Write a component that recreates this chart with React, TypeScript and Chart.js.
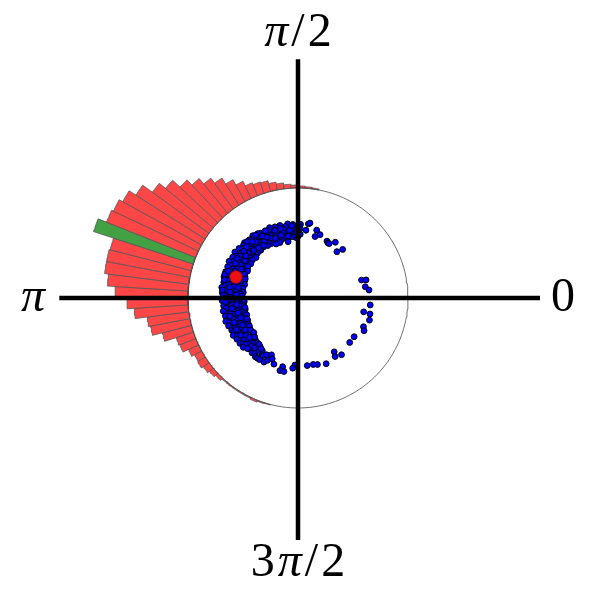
import React, { useEffect, useRef } from "react";
import { Chart, registerables } from "chart.js";

Chart.register(...registerables);

// ---------- data ----------
const binWidthDeg = 3.6;
const binCentersDeg = [
  81.0, 84.6, 88.2, 91.8, 95.4, 99.0, 102.6, 106.2, 109.8, 113.4, 117.0, 120.6,
  124.2, 127.8, 131.4, 135.0, 138.6, 142.2, 145.8, 149.4, 153.0, 156.6, 160.2,
  163.8, 167.4, 171.0, 174.6, 178.2, 181.8, 185.4, 189.0, 192.6, 196.2, 199.8,
  203.4, 207.0, 210.6, 214.2, 217.8, 221.4, 225.0, 228.6, 232.2, 235.8, 239.4,
  243.0, 246.6, 250.2, 253.8,
];
const binCounts = [
  1, 1.5, 2, 3, 4, 6, 8, 11, 12, 14, 19, 25,
  32, 38, 45, 52, 62, 70, 82, 90, 94, 96, 105,
  84, 85, 85, 81, 73, 61, 54, 42, 40, 30, 18,
  17, 11, 8, 9, 7, 5, 3, 1, 1, 1, 1,
  1, 2, 1, 0.5,
];

// samples on the unit circle plot: [direction in degrees, resultant length]
const denseSamples: [number, number][] = [
  [88,0.58],[88,0.63],[88,0.67],[90,0.56],[90,0.61],[90,0.66],[92,0.59],[92,0.64],[92,0.55],
  [94,0.57],[94,0.62],[94,0.67],[96,0.60],[96,0.65],[96,0.56],[98,0.58],[98,0.63],[98,0.68],
  [100,0.55],[100,0.61],[100,0.66],[102,0.59],[102,0.64],[102,0.57],[104,0.56],[104,0.62],[104,0.68],
  [106,0.60],[106,0.66],[106,0.55],[108,0.57],[108,0.63],[108,0.68],[110,0.55],[110,0.61],[110,0.66],
  [112,0.59],[112,0.64],[112,0.69],[114,0.56],[114,0.62],[114,0.67],[116,0.58],[116,0.65],[116,0.55],
  [118,0.61],[118,0.67],[118,0.57],[120,0.55],[120,0.62],[120,0.68],[122,0.58],[122,0.64],[122,0.69],
  [124,0.56],[124,0.61],[124,0.66],[126,0.59],[126,0.65],[126,0.70],[128,0.55],[128,0.62],[128,0.68],
  [130,0.57],[130,0.63],[130,0.69],[132,0.60],[132,0.66],[132,0.55],[134,0.56],[134,0.62],[134,0.70],
  [136,0.58],[136,0.64],[136,0.69],[138,0.55],[138,0.61],[138,0.67],[140,0.57],[140,0.63],[140,0.70],
  [142,0.54],[142,0.60],[142,0.66],[144,0.58],[144,0.65],[144,0.71],[146,0.55],[146,0.62],[146,0.68],
  [148,0.57],[148,0.64],[148,0.70],[150,0.53],[150,0.60],[150,0.67],[152,0.56],[152,0.63],[152,0.71],
  [154,0.54],[154,0.61],[154,0.68],[156,0.57],[156,0.65],[156,0.70],[158,0.52],[158,0.59],[158,0.66],
  [160,0.55],[160,0.62],[160,0.70],[162,0.51],[162,0.58],[162,0.67],[164,0.54],[164,0.64],[164,0.70],
  [166,0.50],[166,0.57],[166,0.66],[168,0.53],[168,0.61],[168,0.69],[170,0.51],[170,0.59],[170,0.67],
  [172,0.54],[172,0.63],[172,0.70],[174,0.50],[174,0.57],[174,0.66],[176,0.52],[176,0.60],[176,0.69],
  [178,0.55],[178,0.64],[178,0.68],[180,0.50],[180,0.58],[180,0.66],[182,0.53],[182,0.61],[182,0.69],
  [184,0.49],[184,0.56],[184,0.65],[186,0.52],[186,0.60],[186,0.68],[188,0.50],[188,0.58],[188,0.66],
  [190,0.53],[190,0.62],[190,0.69],[192,0.49],[192,0.56],[192,0.64],[194,0.52],[194,0.60],[194,0.68],
  [196,0.50],[196,0.57],[196,0.65],[198,0.53],[198,0.62],[198,0.69],[200,0.51],[200,0.58],[200,0.66],
  [202,0.54],[202,0.61],[202,0.68],[204,0.50],[204,0.57],[204,0.65],[206,0.53],[206,0.60],[206,0.67],
  [208,0.51],[208,0.58],[208,0.66],[210,0.54],[210,0.62],[210,0.68],[212,0.52],[212,0.59],[212,0.65],
  [214,0.55],[214,0.61],[214,0.67],[216,0.52],[216,0.58],[216,0.64],[218,0.54],[218,0.62],[218,0.67],
  [220,0.53],[220,0.59],[220,0.65],[222,0.56],[222,0.63],[222,0.67],[224,0.54],[224,0.60],
  [226,0.57],[226,0.64],[228,0.55],[228,0.62],[230,0.58],[230,0.65],[232,0.56],[232,0.63],
  [234,0.60],[234,0.66],[236,0.58],[236,0.66],[238,0.62],[238,0.66],[239,0.61],[241,0.59],
  [242,0.66],[244,0.63],[245,0.57],[247,0.60],[250,0.64],
  [97,0.62],[103,0.61],[109,0.65],[115,0.60],[121,0.60],[127,0.64],[133,0.59],[139,0.65],
  [145,0.59],[151,0.65],[157,0.62],[163,0.61],[169,0.64],[175,0.62],[181,0.63],[187,0.54],
  [193,0.63],[199,0.55],[205,0.63],[211,0.56],
];

const denseSamplesB: [number, number][] = [
  [100,0.52],[104,0.65],[108,0.53],[112,0.53],[116,0.68],[120,0.65],[124,0.69],[128,0.58],
  [132,0.69],[136,0.53],[140,0.54],[144,0.53],[148,0.54],[152,0.52],[156,0.53],[160,0.51],
  [162,0.70],[166,0.69],[170,0.55],[174,0.69],[178,0.51],[182,0.49],[186,0.56],[190,0.49],
  [194,0.56],[198,0.49],[202,0.50],[206,0.56],[210,0.51],[214,0.52],[218,0.51],[222,0.53],
  [226,0.61],[230,0.55],[234,0.57],[91,0.60],[95,0.66],[99,0.57],[105,0.59],[111,0.58],
  [117,0.62],[123,0.57],[129,0.66],[135,0.66],[141,0.61],[147,0.66],[153,0.58],[159,0.68],
  [165,0.61],[171,0.63],[177,0.56],[183,0.66],[189,0.61],[195,0.64],[201,0.62],[207,0.63],
  [213,0.62],[219,0.57],[225,0.65],[229,0.60],
];

const sparseSamples: [number, number][] = [
  [82,0.68],[83.3,0.62],[80.9,0.69],[74.6,0.64],[74.5,0.58],[70.8,0.61],[63,0.58],[61.4,0.57],
  [60.2,0.57],[56.2,0.61],[50,0.55],[47.4,0.6],[15.8,0.6],[14.9,0.64],[9.5,0.62],[6.4,0.65],
  [-5.5,0.66],[-11.9,0.61],[-12.5,0.67],[-17.2,0.68],[-23.7,0.65],[-26.3,0.67],[-34.6,0.62],
  [-40.7,0.62],[-56.1,0.59],[-57.6,0.63],[-52.5,0.65],[-66.8,0.65],[-73.7,0.63],[-77.1,0.62],
  [-82.2,0.62],[-92.6,0.61],[-94.3,0.64],[-102.6,0.64],[-104,0.68],[-100.8,0.68],
];

const meanDirectionDeg = 161.3;
const meanLength = 0.595;

const tickLabels = ["0", "π/2", "π", "3π/2"];
const tickAnglesDeg = [0, 90, 180, 270];

// ---------- presentation ----------
const countToRadius = 1 / 110;
const labelRadius = 2.41;
const axisMin = -2.17;
const axisMax = 2.2;
const D = Math.PI / 180;

const polar = (deg: number, r: number) => ({ x: r * Math.cos(deg * D), y: r * Math.sin(deg * D) });

function wedge(centerDeg: number, count: number) {
  const a0 = centerDeg - binWidthDeg / 2;
  const a1 = centerDeg + binWidthDeg / 2;
  const rOut = 1 + count * countToRadius;
  const steps = 6;
  const pts: { x: number; y: number }[] = [];
  for (let i = 0; i <= steps; i++) pts.push(polar(a0 + ((a1 - a0) * i) / steps, 1));
  for (let i = steps; i >= 0; i--) pts.push(polar(a0 + ((a1 - a0) * i) / steps, rOut));
  pts.push(pts[0]);
  return pts;
}

const UPRIGHT = '48px "Liberation Serif", serif';
const ITALIC = 'italic 48px "Liberation Serif", serif';
const GAP = 3;

const labelPlugin = {
  id: "piLabels",
  afterDatasetsDraw(chart: any) {
    const { ctx, scales } = chart;
    const x = scales.x;
    const y = scales.y;
    ctx.save();
    ctx.fillStyle = "#000";
    ctx.textAlign = "left";
    ctx.textBaseline = "middle";
    tickLabels.forEach((t, i) => {
      const p = polar(tickAnglesDeg[i], labelRadius);
      const cx = x.getPixelForValue(p.x);
      const cy = y.getPixelForValue(p.y);
      const chars = Array.from(t);
      const widths = chars.map((ch) => {
        ctx.font = ch === "π" ? ITALIC : UPRIGHT;
        return ctx.measureText(ch).width;
      });
      const total = widths.reduce((s, w) => s + w, 0) + GAP * (chars.length - 1);
      let px = cx - total / 2;
      chars.forEach((ch, k) => {
        ctx.font = ch === "π" ? ITALIC : UPRIGHT;
        ctx.fillText(ch, px, cy);
        px += widths[k] + GAP;
      });
    });
    ctx.restore();
  },
};

export default function App() {
  const canvasRef = useRef<HTMLCanvasElement | null>(null);

  useEffect(() => {
    if (!canvasRef.current) return;
    const modeIndex = binCounts.indexOf(Math.max(...binCounts));

    const barDatasets = binCentersDeg.map((c, i) => ({
      data: wedge(c, binCounts[i]),
      showLine: true,
      fill: "shape",
      backgroundColor: i === modeIndex ? "#43a043" : "#ff4646",
      borderColor: "#555",
      borderWidth: 0.8,
      pointRadius: 0,
      tension: 0,
      order: 5,
    }));

    const circlePts: { x: number; y: number }[] = [];
    for (let a = 0; a <= 360; a += 2) circlePts.push(polar(a, 1));

    const samplePts = [...denseSamples, ...denseSamplesB, ...sparseSamples].map(([a, r]) => polar(a, r));

    const chart = new Chart(canvasRef.current, {
      type: "scatter",
      data: {
        datasets: [
          ...barDatasets,
          {
            data: circlePts,
            showLine: true,
            borderColor: "#4a4a4a",
            borderWidth: 0.8,
            pointRadius: 0,
            fill: false,
            order: 4,
          },
          {
            data: [{ x: axisMin, y: 0 }, { x: axisMax, y: 0 }],
            showLine: true,
            borderColor: "#000",
            borderWidth: 4.5,
            pointRadius: 0,
            order: 2,
          },
          {
            data: [{ x: 0, y: -axisMax }, { x: 0, y: -axisMin }],
            showLine: true,
            borderColor: "#000",
            borderWidth: 4.5,
            pointRadius: 0,
            order: 2,
          },
          {
            data: samplePts,
            showLine: false,
            backgroundColor: "#0000ff",
            borderColor: "#000",
            borderWidth: 1,
            pointRadius: 2.9,
            order: 3,
          },
          {
            data: [polar(meanDirectionDeg, meanLength)],
            showLine: false,
            backgroundColor: "#ee1111",
            borderColor: "#990000",
            borderWidth: 0.8,
            pointRadius: 6.3,
            order: 0,
          },
        ] as any,
      },
      options: {
        animation: false,
        responsive: false,
        maintainAspectRatio: false,
        events: [],
        layout: { padding: 0, autoPadding: false },
        plugins: { legend: { display: false }, tooltip: { enabled: false } },
        scales: {
          x: { type: "linear", min: -298 / 110, max: 302 / 110, display: false },
          y: { type: "linear", min: -302 / 110, max: 298 / 110, display: false },
        },
      },
      plugins: [labelPlugin],
    });
    return () => chart.destroy();
  }, []);

  return (
    <div style={{ position: "absolute", left: 0, top: 0, width: 600, height: 600, background: "#fff" }}>
      <canvas ref={canvasRef} width={600} height={600} />
    </div>
  );
}
